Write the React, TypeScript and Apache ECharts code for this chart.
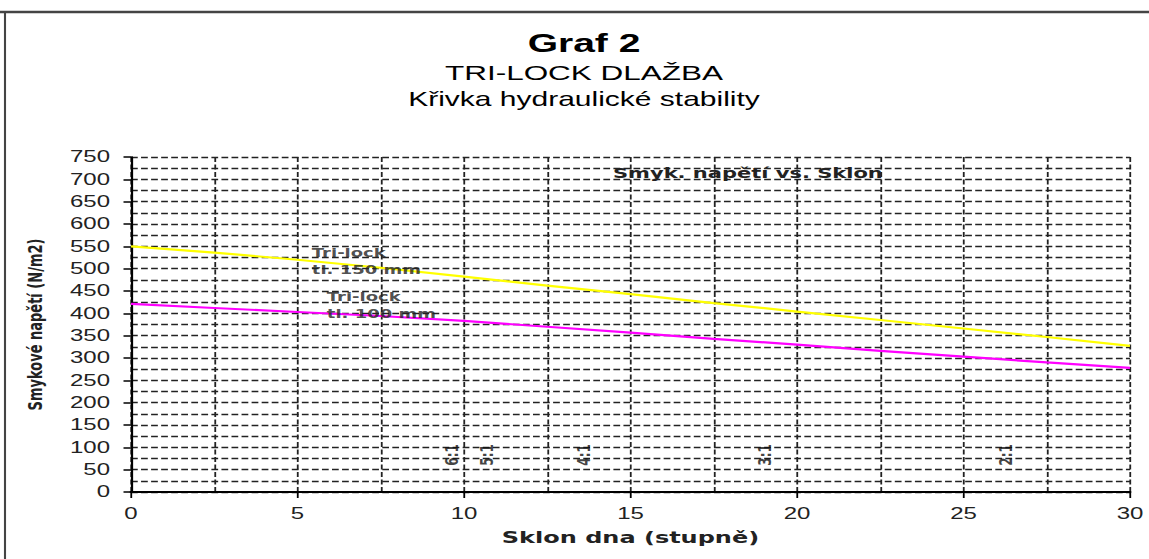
import React, { useEffect, useRef } from "react";
import * as echarts from "echarts";

// Horizontal stretch of the reference picture (its texts are widened)
const S = 1.5;
const PAGE_W = 1149;
const PAGE_H = 559;

// ---- data ----
const slopeDeg = [0, 2.5, 5, 7.5, 10, 12.5, 15, 17.5, 20, 22.5, 25, 27.5, 30];
const tl150 = [550, 536, 520, 502, 482, 462, 443, 423, 404, 385, 366, 347, 327];
const tl100 = [421, 412, 403, 394, 383, 370, 357, 343, 330, 316, 303, 290, 278];

const seriesLabels = ["Tri-lock\ntl. 150 mm", "Tri-lock\ntl. 100 mm"];
const seriesLabelX = [5.43, 5.88];
const seriesLabelY = [516, 417];

const slopeMarkLabels = ["6:1", "5:1", "4:1", "3:1", "2:1"];
const slopeMarkX = [9.63, 10.68, 13.6, 19.03, 26.27];
const slopeMarkY = 83;

const xTitle = "Sklon dna (stupně)";
const yTitle = "Smykové napětí (N/m2)";
const titles = ["Graf 2", "TRI-LOCK DLAŽBA", "Křivka hydraulické stability"];
const innerNote = "Smyk. napětí vs. Sklon";

const zip = (xs: number[], ys: number[]) => xs.map((x, i) => [x, ys[i]]);

export default function App() {
  const ref = useRef<HTMLDivElement | null>(null);

  useEffect(() => {
    if (!ref.current) return;
    const chart = echarts.init(ref.current, undefined, { renderer: "svg" });
    const hDash = [4.5, 2.2];
    const vDash = [5, 2.5];
    const gridColor = "#222";

    const option: any = {
      animation: false,
      backgroundColor: "#ffffff",
      textStyle: { fontFamily: "Liberation Sans" },
      grid: { left: 131 / S, right: 19 / S, top: 157, bottom: 67, containLabel: false },
      xAxis: {
        type: "value",
        min: 0,
        max: 30,
        interval: 5,
        name: xTitle,
        nameLocation: "middle",
        nameGap: 38,
        nameTextStyle: { fontSize: 16, fontWeight: "bold", fontFamily: "DejaVu Sans", color: "#222" },
        axisLine: { show: true, onZero: false, lineStyle: { color: "#000", width: 2 } },
        axisTick: { show: true, length: 6, lineStyle: { color: "#000", width: 1.2 } },
        axisLabel: { margin: 14, fontSize: 16, color: "#222", fontFamily: "Liberation Sans" },
        splitLine: { show: true, lineStyle: { type: vDash, color: gridColor, width: 1.2 } },
        minorTick: { show: false, splitNumber: 2 },
        minorSplitLine: { show: true, lineStyle: { type: vDash, color: gridColor, width: 1.2 } },
      },
      yAxis: {
        type: "value",
        min: 0,
        max: 750,
        interval: 50,
        name: yTitle,
        nameLocation: "middle",
        nameGap: 57,
        nameTextStyle: { fontSize: 13, fontWeight: "bold", fontFamily: "DejaVu Sans", color: "#222" },
        axisLine: { show: true, onZero: false, lineStyle: { color: "#000", width: 1.5 } },
        axisTick: { show: true, length: 5, lineStyle: { color: "#000", width: 1.5 } },
        axisLabel: { margin: 14, fontSize: 16, color: "#222", fontFamily: "Liberation Sans" },
        splitLine: { show: true, lineStyle: { type: hDash, color: gridColor, width: 1.4 } },
        minorTick: { show: false, splitNumber: 2 },
        minorSplitLine: { show: true, lineStyle: { type: hDash, color: gridColor, width: 1.4 } },
      },
      series: [
        {
          name: "Tri-lock tl. 150 mm",
          type: "line",
          data: zip(slopeDeg, tl150),
          symbol: "none",
          lineStyle: { color: "#ffff00", width: 2.2 },
          z: 5,
        },
        {
          name: "Tri-lock tl. 100 mm",
          type: "line",
          data: zip(slopeDeg, tl100),
          symbol: "none",
          lineStyle: { color: "#ff00ff", width: 2.2 },
          z: 5,
        },
        {
          name: "labels",
          type: "scatter",
          data: zip(seriesLabelX, seriesLabelY),
          symbolSize: 0,
          silent: true,
          z: 6,
          label: {
            show: true,
            position: "right",
            distance: 0,
            formatter: (p: any) => seriesLabels[p.dataIndex],
            fontSize: 12,
            fontWeight: "bold",
            fontFamily: "DejaVu Sans",
            color: "#222",
            lineHeight: 17,
            align: "left",
          },
        },
        {
          name: "slopes",
          type: "scatter",
          data: slopeMarkX.map((x) => [x, slopeMarkY]),
          symbolSize: 0,
          silent: true,
          z: 6,
          label: {
            show: true,
            position: "inside",
            rotate: 90,
            formatter: (p: any) => slopeMarkLabels[p.dataIndex],
            fontSize: 12,
            fontWeight: "bold",
            fontFamily: "DejaVu Sans",
            color: "#111",
          },
        },
      ],
      graphic: [
        {
          type: "line",
          shape: { x1: 0, y1: 12, x2: PAGE_W / S + 5, y2: 12 },
          style: { stroke: "#444", lineWidth: 2.5 },
        },
        {
          type: "line",
          shape: { x1: 5 / S, y1: 11, x2: 5 / S, y2: PAGE_H + 5 },
          style: { stroke: "#444", lineWidth: 1.4 },
        },
        {
          type: "text",
          x: 584 / S,
          y: 43,
          style: {
            text: titles[0],
            textAlign: "center",
            textVerticalAlign: "middle",
            fontSize: 26,
            fontWeight: "bold",
            fontFamily: "Liberation Sans",
            fill: "#000",
          },
        },
        {
          type: "text",
          x: 584 / S,
          y: 73,
          style: {
            text: titles[1],
            textAlign: "center",
            textVerticalAlign: "middle",
            fontSize: 21,
            fontFamily: "Liberation Sans",
            fill: "#000",
          },
        },
        {
          type: "text",
          x: 584 / S,
          y: 99,
          style: {
            text: titles[2],
            textAlign: "center",
            textVerticalAlign: "middle",
            fontSize: 20,
            fontFamily: "Liberation Sans",
            fill: "#000",
          },
        },
        {
          type: "text",
          x: 613 / S,
          y: 173,
          z: 10,
          style: {
            text: innerNote,
            textAlign: "left",
            textVerticalAlign: "middle",
            fontSize: 14,
            fontWeight: "bold",
            fontFamily: "DejaVu Sans",
            fill: "#222",
          },
        },
      ],
    };

    chart.setOption(option);
    return () => chart.dispose();
  }, []);

  return (
    <div
      ref={ref}
      style={{
        position: "absolute",
        left: 0,
        top: 0,
        width: PAGE_W / S,
        height: PAGE_H,
        transform: `scaleX(${S})`,
        transformOrigin: "0 0",
      }}
    />
  );
}
